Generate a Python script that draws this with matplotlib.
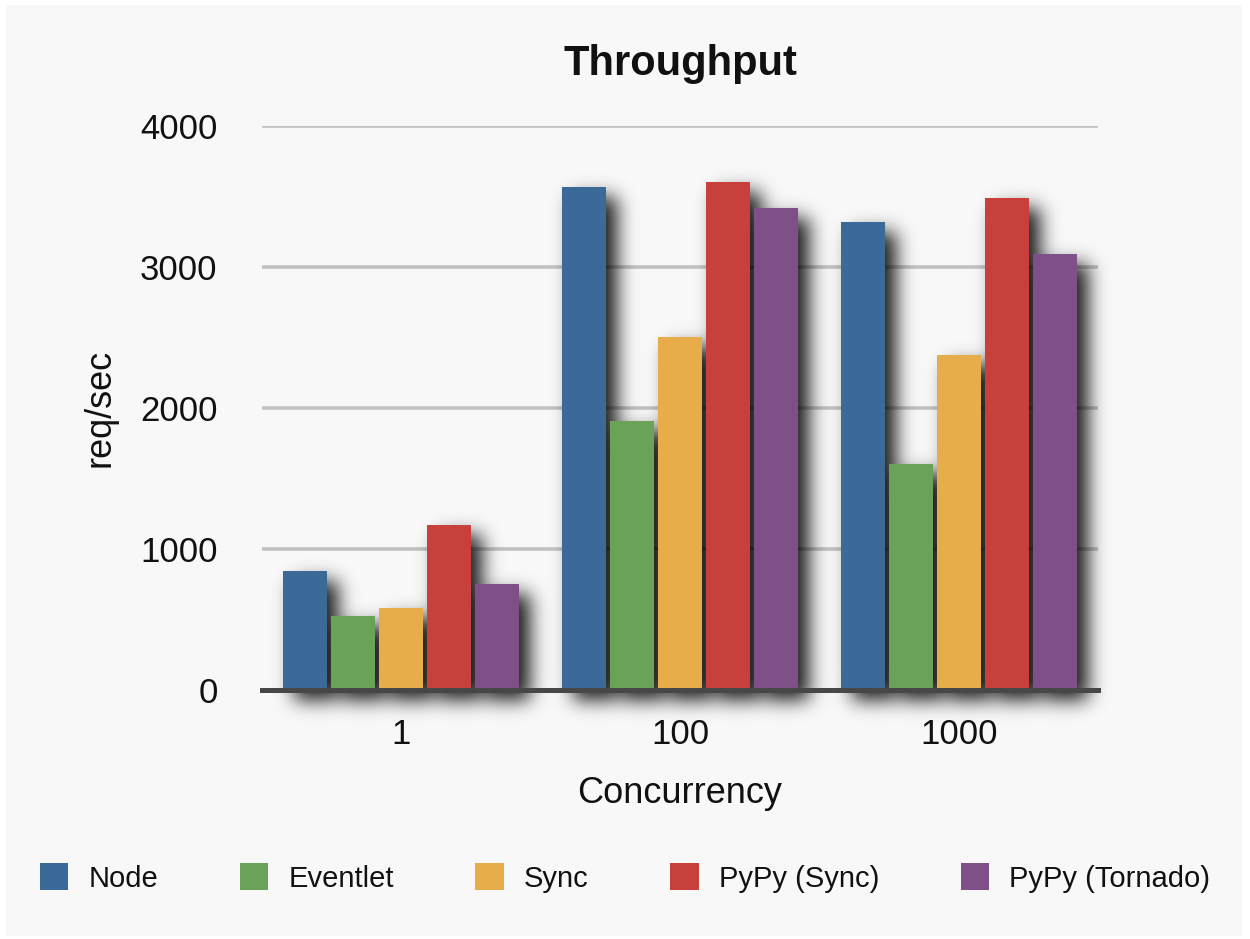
import numpy as np
import matplotlib
matplotlib.use("Agg")
import matplotlib.pyplot as plt
from matplotlib.patches import Rectangle, Patch

plt.rcParams["font.family"] = ["Liberation Sans", "DejaVu Sans"]

# Throughput data (requests per second) per server, by concurrency level
concurrency = ["1", "100", "1000"]
servers = ["Node", "Eventlet", "Sync", "PyPy (Sync)", "PyPy (Tornado)"]
node = [845, 3568, 3317]
eventlet = [525, 1905, 1600]
sync = [580, 2507, 2375]
pypy_sync = [1170, 3606, 3490]
pypy_tornado = [750, 3419, 3094]
series = [node, eventlet, sync, pypy_sync, pypy_tornado]
colors = ["#3b6998", "#6aa357", "#e8ad4b", "#c7403c", "#7f5088"]
y_ticks = [0, 1000, 2000, 3000, 4000]

W, H = 1250, 939
fig = plt.figure(figsize=(W / 100, H / 100), dpi=100)
fig.patch.set_facecolor("white")
fig.patches.append(Rectangle((6 / W, 3 / H), (1242 - 6) / W, (934 - 3) / H,
                             transform=fig.transFigure, facecolor="#f8f8f8",
                             edgecolor="none", zorder=-10))

ax = fig.add_axes([262 / W, 249 / H, 836 / W, 564 / H])
ax.set_facecolor("none")
ax.set_xlim(-0.5, 2.5)
ax.set_ylim(0, 4000)
for s in ax.spines.values():
    s.set_visible(False)

pitch = 0.172
width = 0.158
x = np.arange(len(concurrency))
n = len(series)
bars = []
for i, (vals, c) in enumerate(zip(series, colors)):
    offs = (i - (n - 1) / 2) * pitch
    b = ax.bar(x + offs, vals, width=width, color=c, edgecolor="none",
               zorder=3, label=servers[i])
    bars.append(b)

# soft drop shadow behind the bars, rendered as a blurred raster layer
mask = np.zeros((H, W))
dx, dy = 11, 10
for b in bars:
    for r in b.patches:
        x0, y0 = r.get_x(), r.get_y()
        x1, y1 = x0 + r.get_width(), y0 + r.get_height()
        (px0, py0), (px1, py1) = ax.transData.transform([[x0, y0], [x1, y1]])
        c0, c1 = int(round(px0)) + dx, int(round(px1)) + dx
        r0, r1 = int(round(H - py1)) + dy, int(round(H - py0)) + dy
        mask[max(r0, 0):min(r1, H), max(c0, 0):min(c1, W)] = 1.0

sigma = 9.5
k = np.arange(-int(4 * sigma), int(4 * sigma) + 1)
kern = np.exp(-0.5 * (k / sigma) ** 2)
kern /= kern.sum()
blur = np.apply_along_axis(lambda r: np.convolve(r, kern, mode="same"), 1, mask)
blur = np.apply_along_axis(lambda r: np.convolve(r, kern, mode="same"), 0, blur)
rgba = np.zeros((H, W, 4))
rgba[..., 3] = np.clip(0.9 * blur, 0, 1)
inv = ax.transData.inverted()
(ex0, ey0), (ex1, ey1) = inv.transform([[0, 0], [W, H]])
ax.imshow(rgba, extent=(ex0, ex1, ey0, ey1), origin="upper", aspect="auto",
          interpolation="nearest", clip_on=False, zorder=2.5)
ax.set_xlim(-0.5, 2.5)
ax.set_ylim(0, 4000)

# grid and baseline
for yv in y_ticks[1:]:
    ax.axhline(yv, color="#c2c2c2", lw=2.6, zorder=1)
ax.axhline(0, color="#474747", lw=3.6, zorder=4, clip_on=False)

ax.set_xticks(x)
ax.set_xticklabels(concurrency)
ax.set_yticks(y_ticks)
ax.set_yticklabels([str(v) for v in y_ticks])
ax.tick_params(axis="x", length=0, pad=20, labelsize=25, colors="#111111")
ax.tick_params(axis="y", length=0, pad=32, labelsize=25, colors="#111111")

ax.set_xlabel("Concurrency", fontsize=26, labelpad=18, color="#111111")
ax.set_ylabel("req/sec", fontsize=26, labelpad=16, color="#111111")
ax.set_title("Throughput", fontsize=30, fontweight="bold", pad=37,
             color="#111111")

handles = [Patch(facecolor=c, edgecolor="none") for c in colors]
fig.legend(handles, servers, loc="center left",
           bbox_to_anchor=(40 / W, 1 - 878 / H), ncol=5, frameon=False,
           fontsize=21, handlelength=0.97, handleheight=1.05,
           handletextpad=0.69, columnspacing=2.8, borderpad=0,
           borderaxespad=0, labelcolor="#111111")

fig.savefig("out.png", dpi=100, facecolor=fig.get_facecolor())
